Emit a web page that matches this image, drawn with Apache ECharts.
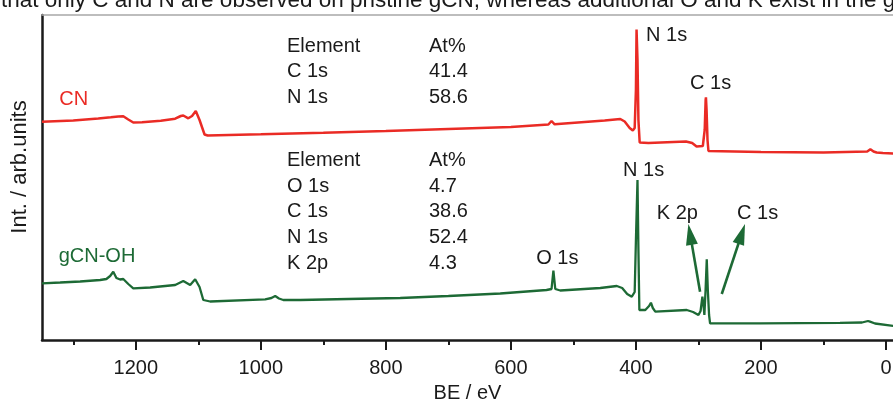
<!DOCTYPE html>
<html>
<head>
<meta charset="utf-8">
<script src="https://cdn.jsdelivr.net/npm/echarts@6/dist/echarts.min.js"></script>
<style>
  html, body { margin: 0; padding: 0; background: #ffffff; overflow: hidden; }
  #chart { width: 893px; height: 404px; }
</style>
</head>
<body>
<div id="chart"></div>
<script>
// XPS survey spectra: binding energy (eV) and intensity (arb. units, offset per trace)
const cnBE  = [1350, 1300, 1260, 1240, 1228, 1220, 1212, 1204, 1190, 1160, 1137, 1128, 1124, 1116, 1110, 1104, 1098, 1090, 1085,
               1000, 900, 800, 700, 600, 540, 535, 530, 450, 425, 418, 410, 405, 402, 400, 399, 397.5, 396, 394, 380,
               320, 310, 303, 293, 290, 288.5, 288, 287, 285.5, 284, 200, 100, 30, 25, 20, 15, 5, -12];
const cnInt = [218.3, 219.5, 221.5, 222.7, 223.5, 223.7, 220.5, 217.5, 217.7, 219.2, 221.3, 224, 224.5, 221.7, 224, 229, 220, 205.5, 204.5,
               205.7, 207.2, 209, 211, 213, 215.5, 219, 215.7, 219.5, 221, 218.5, 212, 209.5, 212, 250, 310.5, 280, 220, 197.5, 197,
               198.5, 197, 193.5, 194, 210, 240, 242.7, 230, 200, 189, 188, 187.5, 188.5, 190.7, 188.5, 187.5, 187, 186.5];

const ohBE  = [1350, 1321, 1289, 1257, 1247, 1241, 1236, 1231, 1225, 1220, 1212, 1204, 1177, 1137, 1124, 1113, 1105, 1098, 1092, 1081,
               993, 983, 977, 971, 964, 937, 860, 777, 700, 617, 543, 535, 532, 529, 521, 457, 430.6, 422, 414, 406.6, 402,
               400, 397.5, 396, 394.5, 385, 379, 376, 373, 369, 318.7, 308.6, 300, 296.6, 293.7, 291.8, 290.5, 288.6, 286.7,
               285, 283, 281.4, 201.5, 73.6, 38.4, 28.8, 25.6, 17.6, -12];
const ohInt = [56.7, 57.5, 58.5, 60, 61, 64, 68.3, 62, 60.5, 61, 56, 51.7, 52.5, 55, 59, 55, 60.7, 53, 40, 38.5,
               40.7, 42, 44, 41.5, 40, 40, 41, 42, 44, 46.5, 50, 51, 69.3, 51, 49.5, 52, 54, 52, 46, 43.3, 48,
               100, 160, 90, 30, 30, 34, 37.3, 32, 28.3, 30, 28, 25, 29, 43.3, 34, 25, 50, 80.7,
               50, 25, 16.7, 16.7, 17.2, 17.5, 19, 18.3, 16.5, 14];

// Peak annotations (left edge / vertical centre of each label, in data units)
const peakText  = ['N 1s', 'C 1s', 'N 1s', 'K 2p', 'C 1s', 'O 1s', 'CN', 'gCN-OH'];
const peakBE    = [383.8, 313.4, 420.5, 366.6, 238.2, 559.6, 1322.3, 1323.3];
const peakInt   = [305, 256.7, 169.3, 126.7, 126.7, 81.7, 241, 84];
const peakKind  = ['peak', 'peak', 'peak', 'peak', 'peak', 'peak', 'cn', 'oh'];

// Arrows on the gCN-OH trace: [tailBE, tailInt, tipBE, tipInt]
const arrowK2p = [297.4, 48.3, 316.1, 116];
const arrowC1s = [262.7, 46.0, 225.5, 116];

// Composition tables
const tableHeader = ['Element', 'At%'];
const cnTable = [['C 1s', '41.4'], ['N 1s', '58.6']];
const ohTable = [['O 1s', '4.7'], ['C 1s', '38.6'], ['N 1s', '52.4'], ['K 2p', '4.3']];

// Axis ticks
const majorTicks = [0, 200, 400, 600, 800, 1000, 1200];
const minorTicks = [100, 300, 500, 700, 900, 1100, 1300];

const captionText = 'that only C and N are observed on pristine gCN, whereas additional O and K exist in the g';
const yTitle = 'Int. / arb.units';

const RED = '#ea2b25';
const GREEN = '#1d6a35';
const INK = '#1a1a1a';
const FONT = '"Liberation Sans", Arial, sans-serif';
const HEAD_W = 12, HEAD_L = 21;

const zip = (a, b) => a.map((v, i) => [v, b[i]]);

const chart = echarts.init(document.getElementById('chart'), null, { renderer: 'canvas' });

// BE axis runs from 1350 eV at the left axis to just below 0 eV at the right edge
const xBase = { type: 'value', min: -11.2, max: 1350, inverse: true, splitLine: { show: false } };

function tableGraphic(rows, left, top) {
  const lineH = 25.7;
  const all = [tableHeader].concat(rows);
  const items = [];
  all.forEach((r, i) => {
    items.push({ type: 'text', x: left, y: top + i * lineH,
      style: { text: r[0], font: '20px ' + FONT, fill: INK, verticalAlign: 'middle' } });
    items.push({ type: 'text', x: left + 142, y: top + i * lineH,
      style: { text: r[1], font: '20px ' + FONT, fill: INK, verticalAlign: 'middle' } });
  });
  return items;
}

const labelColor = k => (k === 'cn' ? RED : k === 'oh' ? GREEN : INK);

const option = {
  backgroundColor: '#ffffff',
  animation: false,
  grid: { left: 42, top: 15, bottom: 64, right: 0, containLabel: false, outerBoundsMode: 'none' },
  xAxis: [
    Object.assign({}, xBase, {
      position: 'bottom',
      name: 'BE / eV', nameLocation: 'middle', nameGap: 43,
      nameTextStyle: { fontFamily: FONT, fontSize: 20, color: INK },
      axisLine: { show: true, onZero: false, lineStyle: { color: INK, width: 2.5 } },
      axisTick: { show: true, length: 10, lineStyle: { color: INK, width: 2 }, customValues: majorTicks },
      axisLabel: { show: true, margin: 18, fontFamily: FONT, fontSize: 20, color: INK,
                   customValues: majorTicks, formatter: v => String(v) }
    }),
    Object.assign({}, xBase, {
      position: 'bottom',
      axisLine: { show: false, onZero: false },
      axisTick: { show: true, length: 5, lineStyle: { color: INK, width: 2 }, customValues: minorTicks },
      axisLabel: { show: false }
    }),
    Object.assign({}, xBase, {
      position: 'top',
      axisLine: { show: true, onZero: false, lineStyle: { color: '#a8a8a8', width: 1.5 } },
      axisTick: { show: false },
      axisLabel: { show: false }
    })
  ],
  yAxis: {
    type: 'value', min: 0, max: 325,
    axisLine: { show: true, onZero: false, lineStyle: { color: INK, width: 2.5 } },
    axisTick: { show: false },
    axisLabel: { show: false },
    splitLine: { show: false }
  },
  graphic: [
    { type: 'text', x: 1, y: 1,
      style: { text: captionText, font: '22.5px ' + FONT, fill: INK, verticalAlign: 'middle' } },
    { type: 'text', x: 20, y: 167, rotation: Math.PI / 2,
      style: { text: yTitle, font: '22px ' + FONT, fill: INK, align: 'center', verticalAlign: 'middle' } }
  ].concat(tableGraphic(cnTable, 287, 46), tableGraphic(ohTable, 287, 160.5)),
  series: [
    {
      name: 'CN', type: 'line', xAxisIndex: 0, data: zip(cnBE, cnInt),
      showSymbol: false, symbol: 'none', clip: true,
      lineStyle: { color: RED, width: 2.5 }, itemStyle: { color: RED }
    },
    {
      name: 'gCN-OH', type: 'line', xAxisIndex: 0, data: zip(ohBE, ohInt),
      showSymbol: false, symbol: 'none', clip: true,
      lineStyle: { color: GREEN, width: 2.3 }, itemStyle: { color: GREEN }
    },
    {
      name: 'labels', type: 'scatter', xAxisIndex: 0, symbolSize: 0, silent: true,
      data: peakText.map((t, i) => ({
        value: [peakBE[i], peakInt[i]],
        name: t,
        label: { color: labelColor(peakKind[i]) }
      })),
      label: {
        show: true, position: [0, 0], align: 'left', verticalAlign: 'middle',
        fontFamily: FONT, fontSize: 20, formatter: p => p.name, opacity: 1
      },
      itemStyle: { color: 'rgba(0,0,0,0)', opacity: 1 }
    }
  ]
};

chart.setOption(option);

// Arrows: shaft from the tail to the arrowhead centre, head rotated along the shaft
const heads = [];
const shafts = [];
[arrowK2p, arrowC1s].forEach(a => {
  const p0 = chart.convertToPixel({ xAxisIndex: 0, yAxisIndex: 0 }, [a[0], a[1]]);
  const p1 = chart.convertToPixel({ xAxisIndex: 0, yAxisIndex: 0 }, [a[2], a[3]]);
  const dx = p1[0] - p0[0], dy = p1[1] - p0[1];
  const len = Math.hypot(dx, dy);
  const c = [p1[0] - dx / len * HEAD_L / 2, p1[1] - dy / len * HEAD_L / 2];
  const cData = chart.convertFromPixel({ xAxisIndex: 0, yAxisIndex: 0 }, c);
  const rot = Math.atan2(-dx, -dy) * 180 / Math.PI;
  heads.push({ value: cData, symbolRotate: rot });
  shafts.push([{ coord: [a[0], a[1]] }, { coord: cData }]);
});

chart.setOption({
  series: [
    {}, {
      markLine: {
        silent: true, animation: false, symbol: ['none', 'none'],
        label: { show: false },
        lineStyle: { color: GREEN, width: 2.6, type: 'solid' },
        data: shafts
      }
    }, {}, {
      name: 'arrowheads', type: 'scatter', xAxisIndex: 0, silent: true,
      symbol: 'triangle', symbolSize: [HEAD_W, HEAD_L],
      itemStyle: { color: GREEN, opacity: 1 },
      data: heads
    }
  ]
});
</script>
</body>
</html>
